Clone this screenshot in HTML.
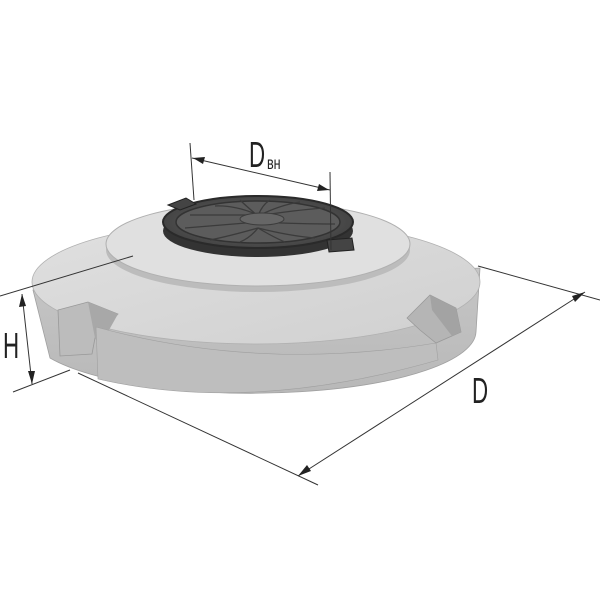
<!DOCTYPE html>
<html><head><meta charset="utf-8"><style>html,body{margin:0;padding:0;background:#fff}svg{display:block}</style></head>
<body>
<svg width="600" height="600" viewBox="0 0 600 600" xmlns="http://www.w3.org/2000/svg">
<defs>
<linearGradient id="side" x1="0" y1="0" x2="0" y2="1"><stop offset="0" stop-color="#c6c6c6"/><stop offset="1" stop-color="#b8b8b8"/></linearGradient>
<linearGradient id="top" x1="0" y1="0" x2="1" y2="1"><stop offset="0" stop-color="#e0e0e0"/><stop offset="1" stop-color="#d0d0d0"/></linearGradient>
<radialGradient id="hatch" cx="0.5" cy="0.5" r="0.5"><stop offset="0" stop-color="#6a6a6a"/><stop offset="1" stop-color="#444"/></radialGradient>
</defs>
<path d="M33,290 L50,358 A224,62 0 0 0 476,332 L480,268 Z" fill="url(#side)" stroke="#a0a0a0" stroke-width="0.8"/>
<ellipse cx="256" cy="282" rx="224" ry="62" fill="url(#top)" stroke="#b0b0b0" stroke-width="0.8"/>
<polygon points="58,310 88,302 118,314 95,338 92,354 60,356" fill="#bcbcbc" stroke="#999" stroke-width="0.8"/>
<polygon points="88,302 95,338 100,346 118,314" fill="#a8a8a8"/>
<path d="M96,327 L98,379 Q250,414 438,360 L436,343 Q260,372 96,327 Z" fill="#bebebe" stroke="#a0a0a0" stroke-width="0.6"/>
<polygon points="407,318 430,295 456,308 461,332 436,343 420,330" fill="#b5b5b5" stroke="#999" stroke-width="0.8"/>
<polygon points="430,295 456,308 461,332 452,336 432,310" fill="#a3a3a3"/>
<ellipse cx="258" cy="250" rx="152" ry="42" fill="#bcbcbc"/>
<ellipse cx="258" cy="244" rx="152" ry="42" fill="#e0e0e0" stroke="#b0b0b0" stroke-width="1"/>
<ellipse cx="258" cy="231" rx="95" ry="26" fill="#333"/>
<ellipse cx="258" cy="222" rx="95" ry="26" fill="url(#hatch)" stroke="#2a2a2a" stroke-width="2"/>
<ellipse cx="258" cy="222" rx="82" ry="21" fill="#5c5c5c" stroke="#333" stroke-width="1.5"/>
<g stroke="#3b3b3b" stroke-width="1.3" fill="none">
<path d="M258,215 Q235,205 215,206"/><path d="M258,215 Q230,215 190,215"/><path d="M258,222 Q220,225 185,228"/>
<path d="M258,228 Q230,236 210,240"/><path d="M258,228 Q250,238 240,242"/><path d="M258,228 Q275,238 285,242"/>
<path d="M258,228 Q290,236 315,238"/><path d="M258,222 Q300,224 335,224"/><path d="M258,216 Q295,210 325,208"/>
<path d="M258,216 Q280,205 300,202"/><path d="M258,216 Q262,205 270,200"/><path d="M258,216 Q245,205 240,200"/>
</g>
<ellipse cx="262" cy="219" rx="22" ry="6" fill="#666" stroke="#3c3c3c"/>
<polygon points="327,240 352,238 354,250 329,252" fill="#444" stroke="#222"/>
<polygon points="168,205 186,198 196,204 180,210" fill="#444" stroke="#222"/>
<g stroke="#333" stroke-width="1" fill="none">
<line x1="190" y1="143" x2="194" y2="200"/>
<line x1="330" y1="172" x2="331" y2="250"/>
<line x1="192" y1="158" x2="330" y2="190"/>
<line x1="0" y1="296" x2="133" y2="256"/>
<line x1="22" y1="294" x2="32" y2="384"/>
<line x1="13" y1="392" x2="70" y2="370"/>
<line x1="78" y1="373" x2="318" y2="485"/>
<line x1="478" y1="266" x2="600" y2="300"/>
<line x1="298" y1="476" x2="585" y2="292"/>
</g>
<g fill="#222">
<polygon points="193,158 205,157 203,164"/>
<polygon points="329,190 317,191 319,184"/>
<polygon points="22,294 19,307 26,306"/>
<polygon points="32,384 28,371 35,371"/>
<polygon points="298,476 307,465 311,471"/>
<polygon points="585,292 575,302 572,296"/>
</g>
<g font-family="Liberation Sans, sans-serif" fill="#222">
<text transform="translate(249,167) scale(0.62,1)" font-size="36">D</text>
<text transform="translate(267,169) scale(0.7,1)" font-size="18">вн</text>
<text transform="translate(3,358) scale(0.62,1)" font-size="36">H</text>
<text transform="translate(472,403) scale(0.62,1)" font-size="36">D</text>
</g>
</svg>
</body></html>
